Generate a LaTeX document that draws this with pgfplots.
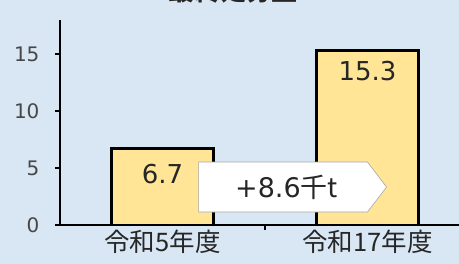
\documentclass[border=0pt]{standalone}
\usepackage{fontspec}
\setmainfont{Noto Sans CJK JP}
\newfontfamily\numfont{DejaVu Sans}
\usepackage{pgfplots}
\pgfplotsset{compat=1.18}
\definecolor{bg}{HTML}{D9E7F4}
\definecolor{barfill}{HTML}{FFE595}
\definecolor{txt}{HTML}{262626}
\begin{document}
\begin{tikzpicture}[x=1pt,y=1pt]
\fill[bg] (0,0) rectangle (459,264);
\begin{axis}[
  at={(60pt,39pt)}, anchor=south west,
  scale only axis, width=410pt, height=205pt,
  xmin=-0.5, xmax=1.5, ymin=0, ymax=18,
  axis x line=bottom, axis y line=left,
  axis line style={-, line width=2pt, black},
  xtick={0.5}, xticklabels={},
  extra x ticks={0,1},
  extra x tick labels={令和5年度,令和17年度},
  extra x tick style={major tick length=0pt, tick style={draw=none},
    xticklabel style={font=\fontsize{25.5}{27}\selectfont, text=txt, yshift=-1pt}},
  ytick={0,5,10,15},
  tick align=outside,
  major tick length=5pt,
  tick style={line width=1.5pt, black},
  yticklabel style={font=\numfont\fontsize{20}{24}\selectfont, text=txt!85, xshift=-12pt},
  /pgf/number format/assume math mode=true,
  clip=false,
]
\addplot[ybar, bar width=102pt, fill=barfill, draw=black, line width=2.8pt]
  coordinates {(0,6.7) (1,15.3)};
\node[font=\numfont\fontsize{26}{28}\selectfont, text=txt] at (axis cs:0,4.45) {6.7};
\node[font=\numfont\fontsize{26}{28}\selectfont, text=txt] at (axis cs:1,13.5) {15.3};
\draw[fill=white, draw=black!35, line width=0.6pt]
  (axis cs:0.176,5.53) -- (axis cs:1.0,5.53) -- (axis cs:1.093,3.33)
  -- (axis cs:1.0,1.14) -- (axis cs:0.176,1.14) -- cycle;
\node[font=\fontsize{27}{29}\selectfont, text=txt] at (axis cs:0.605,3.3) {{\numfont+8.6}千t};
\end{axis}
\node[anchor=base, font=\bfseries\fontsize{26}{28}\selectfont, text=txt] at (233,263) {最終処分量};
\pgfresetboundingbox
\useasboundingbox (0,0) rectangle (459,264);
\end{tikzpicture}
\end{document}
